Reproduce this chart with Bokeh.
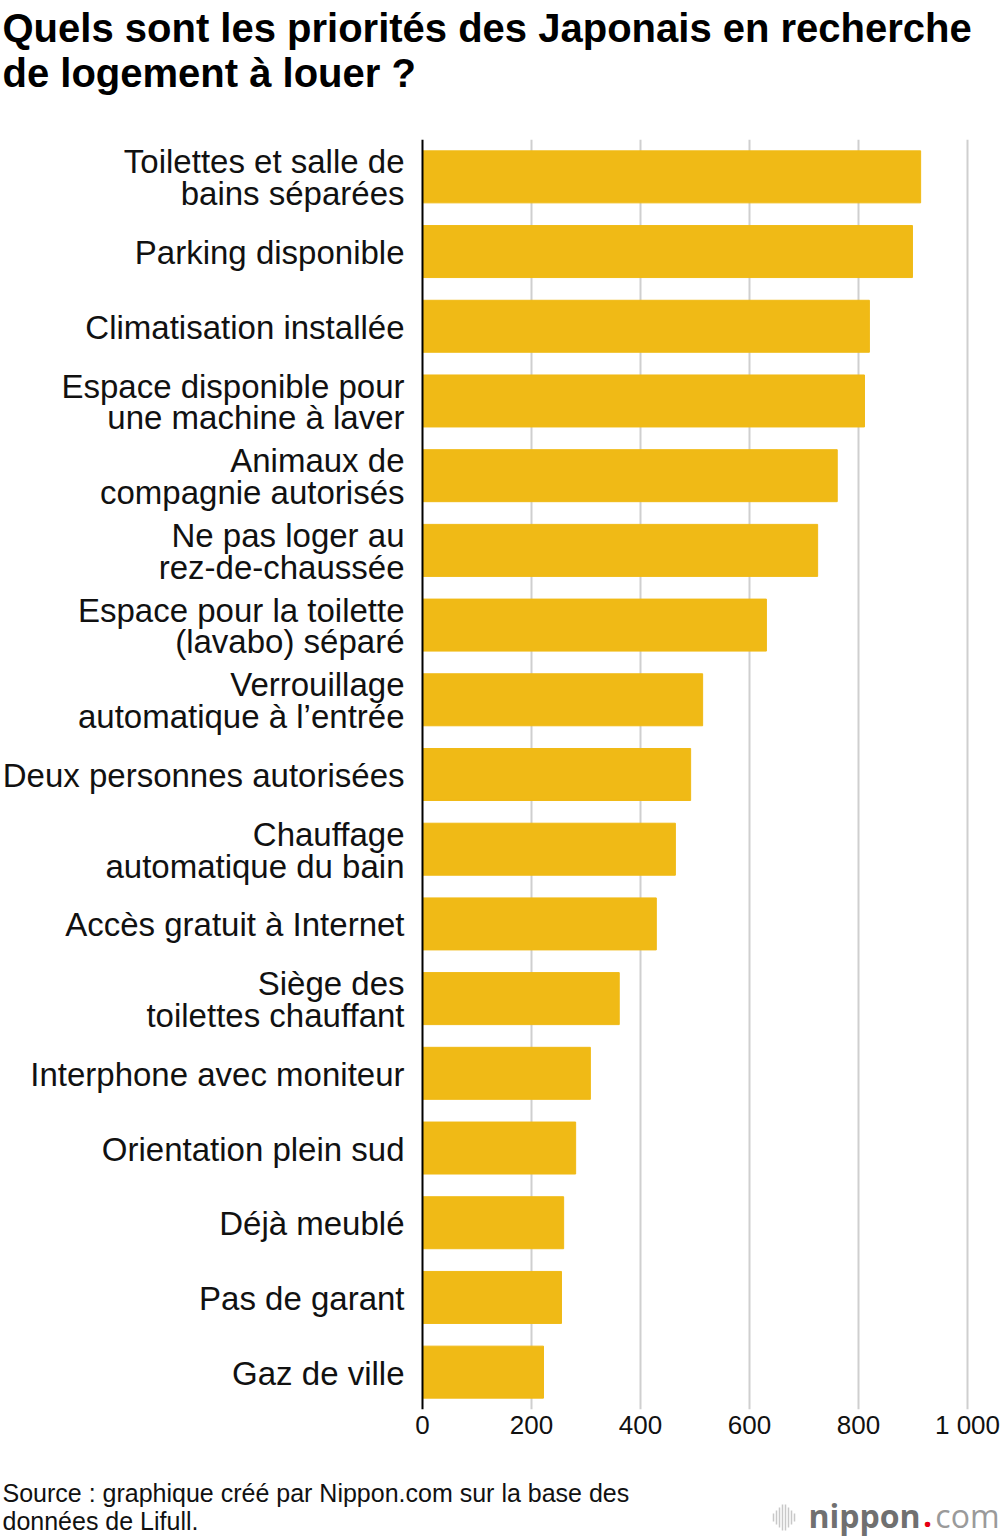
from bokeh.plotting import figure
from bokeh.models import FactorRange, Range1d, FixedTicker, Span, ColumnDataSource
from bokeh.layouts import column
from bokeh.core.properties import value
from bokeh.embed import file_html
from bokeh.resources import INLINE

categories = [
    "Toilettes et salle de\nbains séparées",
    "Parking disponible",
    "Climatisation installée",
    "Espace disponible pour\nune machine à laver",
    "Animaux de\ncompagnie autorisés",
    "Ne pas loger au\nrez-de-chaussée",
    "Espace pour la toilette\n(lavabo) séparé",
    "Verrouillage\nautomatique à l’entrée",
    "Deux personnes autorisées",
    "Chauffage\nautomatique du bain",
    "Accès gratuit à Internet",
    "Siège des\ntoilettes chauffant",
    "Interphone avec moniteur",
    "Orientation plein sud",
    "Déjà meublé",
    "Pas de garant",
    "Gaz de ville",
]
values = [914, 899, 820, 811, 761, 725, 631, 514, 492, 464, 429, 361, 308, 281, 259, 255, 222]
x_ticks = [0, 200, 400, 600, 800, 1000]
x_tick_labels = {0: "0", 200: "200", 400: "400", 600: "600", 800: "800", 1000: "1 000"}

title_lines = ["Quels sont les priorités des Japonais en recherche", "de logement à louer ?"]
source_lines = ["Source : graphique créé par Nippon.com sur la base des", "données de Lifull."]

FONT = "Liberation Sans"
W = 1000
TOP_H = 139
FRAME_H = 1270
AXIS_H = 50
MAIN_H = FRAME_H + AXIS_H
FOOT_H = 1540 - TOP_H - MAIN_H
ZERO_PX = 422
PX_PER_UNIT = 0.545


def blank(height, y0, y1):
    f = figure(width=W, height=height, x_range=Range1d(0, W), y_range=Range1d(y1, y0),
               output_backend="svg", toolbar_location=None,
               x_axis_location=None, y_axis_location=None,
               min_border=0, min_border_left=0, min_border_right=0,
               min_border_top=0, min_border_bottom=0)
    f.outline_line_color = None
    f.xgrid.visible = False
    f.ygrid.visible = False
    f.background_fill_color = "white"
    f.border_fill_color = "white"
    return f


# ---- title block (y in page pixels, line centres) ----
top = blank(TOP_H, 0, TOP_H)
top.text(x=[2, 2], y=[27, 72], text=title_lines, text_font=value(FONT), text_font_style="bold",
         text_font_size="40px", text_color="black", text_baseline="middle", text_align="left")

# ---- main chart ----
src = ColumnDataSource(data=dict(cat=categories, val=values, zero=[0] * len(values)))

p = figure(
    width=W, height=MAIN_H,
    y_range=FactorRange(factors=list(reversed(categories)), range_padding=0),
    x_range=Range1d(-ZERO_PX / PX_PER_UNIT, (W - ZERO_PX) / PX_PER_UNIT),
    output_backend="svg", toolbar_location=None, y_axis_location=None,
    min_border_left=0, min_border_right=0, min_border_top=0, min_border_bottom=AXIS_H,
)
p.outline_line_color = None
p.background_fill_color = "white"
p.border_fill_color = "white"

p.hbar(y="cat", right="val", left=0, height=0.696, color="#F0BA16", source=src)

# category labels, right-aligned against the zero line
p.text(x="zero", y="cat", text="cat", source=src, x_offset=-18, y_offset=1,
       text_font=value(FONT), text_font_size="33px", text_color="#111111",
       text_align="right", text_baseline="middle", text_line_height=0.86)

p.add_layout(Span(location=0, dimension="height", line_color="black", line_width=2))

p.xaxis.ticker = FixedTicker(ticks=x_ticks)
p.xaxis.major_label_overrides = x_tick_labels
p.xaxis.axis_line_color = None
p.xaxis.major_tick_line_color = None
p.xaxis.major_tick_out = 0
p.xaxis.major_tick_in = 0
p.xaxis.minor_tick_line_color = None
p.xaxis.major_label_text_font = FONT
p.xaxis.major_label_text_font_size = "26px"
p.xaxis.major_label_text_color = "#111111"
p.xaxis.major_label_standoff = 0

p.xgrid.ticker = FixedTicker(ticks=x_ticks[1:])
p.xgrid.grid_line_color = "#cfcfcf"
p.xgrid.grid_line_width = 2
p.ygrid.grid_line_color = None

# ---- footer (y in page pixels, line centres) ----
y0 = TOP_H + MAIN_H
foot = blank(FOOT_H, y0, 1540)
foot.text(x=[2, 2], y=[1492, 1520], text=source_lines, text_font=value(FONT),
          text_font_size="25px", text_color="#111111", text_baseline="middle", text_align="left")

# nippon.com logo
icon_x = [773, 776, 779, 782, 785, 788, 791, 794]
icon_h = [8, 14, 20, 26, 26, 20, 14, 8]
foot.segment(x0=icon_x, x1=icon_x, y0=[1517 - h / 2 for h in icon_h], y1=[1517 + h / 2 for h in icon_h],
             line_color="#c8c8c8", line_width=1.5)
foot.text(x=[808], y=[1515], text=["nippon"], text_font=value("Open Sans"), text_font_style="bold",
          text_font_size="32px", text_color="#707070", text_baseline="middle", text_align="left")
foot.text(x=[927], y=[1515], text=["."], text_font=value("Open Sans"), text_font_style="bold",
          text_font_size="32px", text_color="#e50012", text_baseline="middle", text_align="center")
foot.text(x=[999], y=[1515], text=["com"], text_font=value("Open Sans"),
          text_font_size="32px", text_color="#9a9a9a", text_baseline="middle", text_align="right")

layout = column(top, p, foot, spacing=0)
open("out.html", "w").write(file_html(layout, INLINE))
